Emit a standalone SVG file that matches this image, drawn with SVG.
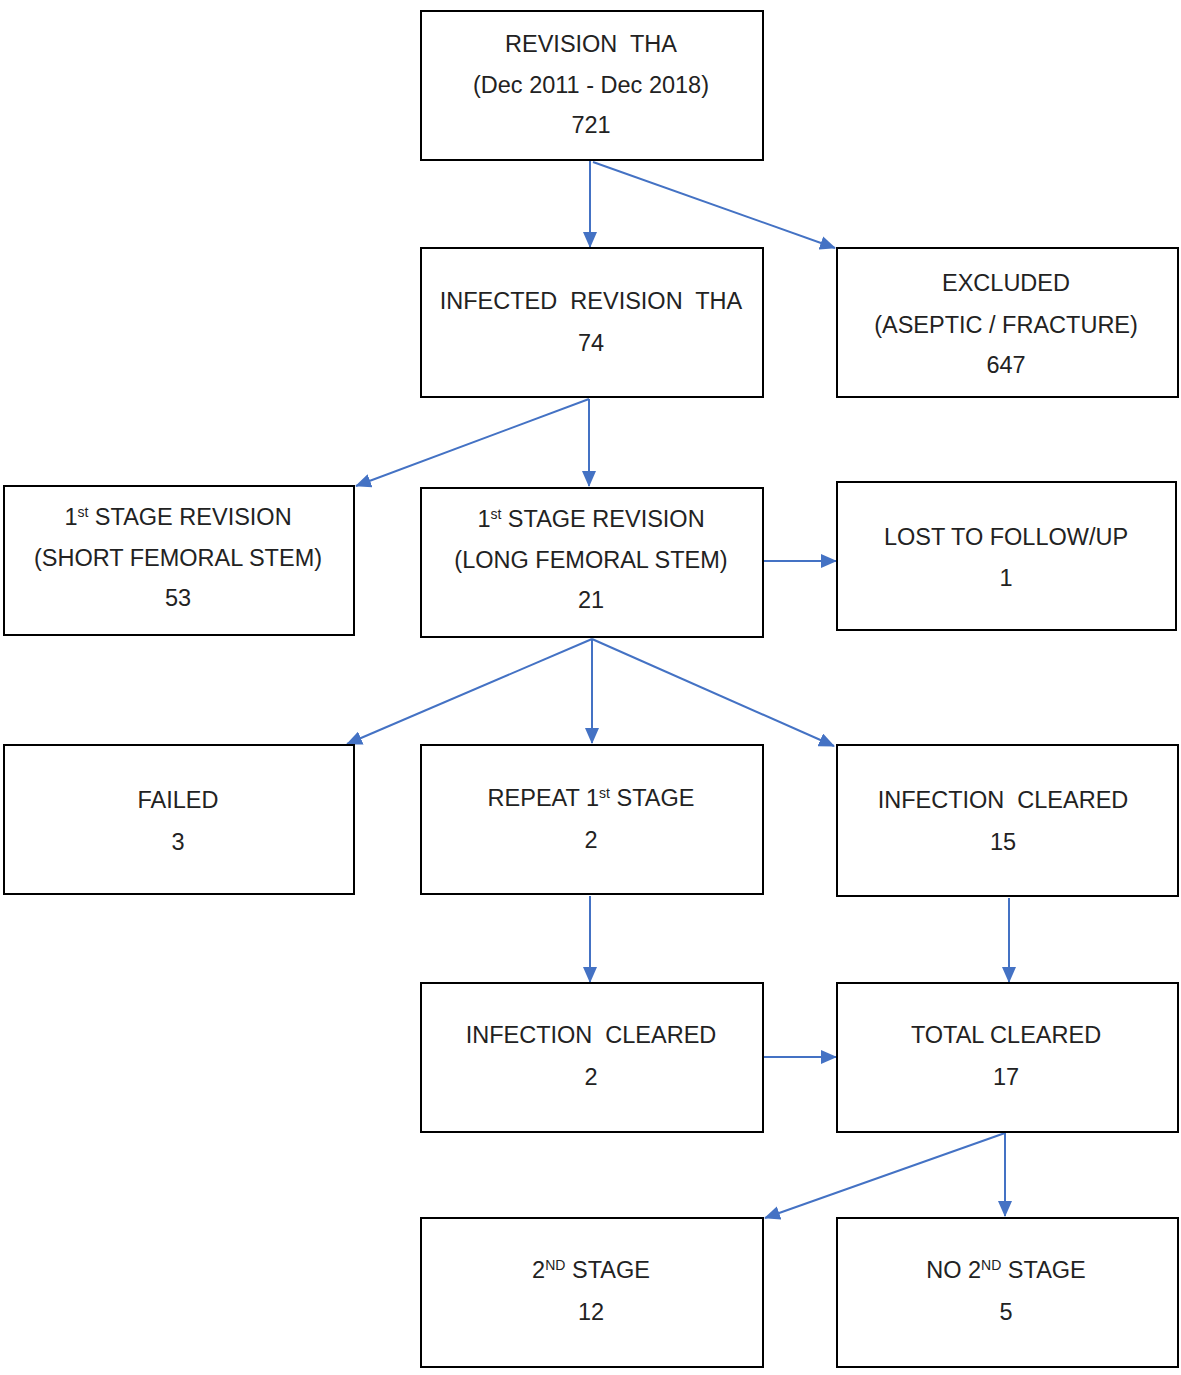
<svg xmlns="http://www.w3.org/2000/svg" width="1181" height="1375" viewBox="0 0 1181 1375">
<style>
.box{fill:#fff;stroke:#000;stroke-width:2}
text{font-family:"Liberation Sans",Arial,sans-serif;font-size:23.5px;fill:#222;text-anchor:middle;white-space:pre}
.sup{font-size:14px}
.c{stroke:#4472C4;stroke-width:2;fill:none;marker-end:url(#ah)}
</style>
<defs>
<marker id="ah" markerWidth="16" markerHeight="14" refX="15" refY="7" orient="auto" markerUnits="userSpaceOnUse">
<path d="M0,0 L16,7 L0,14 Z" fill="#4472C4"/>
</marker>
</defs>
<g id="connectors">
<line class="c" x1="590" y1="161" x2="590" y2="247"/>
<line class="c" x1="593" y1="162" x2="835" y2="248"/>
<line class="c" x1="589" y1="399" x2="356" y2="486"/>
<line class="c" x1="589" y1="399" x2="589" y2="486"/>
<line class="c" x1="764" y1="561" x2="836" y2="561"/>
<line class="c" x1="592" y1="639" x2="347" y2="744"/>
<line class="c" x1="592" y1="639" x2="592" y2="743"/>
<line class="c" x1="592" y1="639" x2="834" y2="746"/>
<line class="c" x1="590" y1="896" x2="590" y2="982"/>
<line class="c" x1="1009" y1="898" x2="1009" y2="982"/>
<line class="c" x1="764" y1="1057" x2="836" y2="1057"/>
<line class="c" x1="1005" y1="1133" x2="765" y2="1218"/>
<line class="c" x1="1005" y1="1133" x2="1005" y2="1216"/>
</g>
<g id="n1"><rect class="box" x="421" y="11" width="342" height="149"/>
<text x="591" y="52" xml:space="preserve">REVISION  THA</text>
<text x="591" y="93">(Dec 2011 - Dec 2018)</text>
<text x="591" y="133">721</text></g>
<g id="n2"><rect class="box" x="421" y="248" width="342" height="149"/>
<text x="591" y="309" xml:space="preserve">INFECTED  REVISION  THA</text>
<text x="591" y="351">74</text></g>
<g id="n3"><rect class="box" x="837" y="248" width="341" height="149"/>
<text x="1006" y="291">EXCLUDED</text>
<text x="1006" y="333">(ASEPTIC / FRACTURE)</text>
<text x="1006" y="373">647</text></g>
<g id="n4"><rect class="box" x="4" y="486" width="350" height="149"/>
<text x="178" y="525">1<tspan class="sup" dy="-8">st</tspan><tspan dy="8"> STAGE REVISION</tspan></text>
<text x="178" y="566">(SHORT FEMORAL STEM)</text>
<text x="178" y="606">53</text></g>
<g id="n5"><rect class="box" x="421" y="488" width="342" height="149"/>
<text x="591" y="527">1<tspan class="sup" dy="-8">st</tspan><tspan dy="8"> STAGE REVISION</tspan></text>
<text x="591" y="568">(LONG FEMORAL STEM)</text>
<text x="591" y="608">21</text></g>
<g id="n6"><rect class="box" x="837" y="482" width="339" height="148"/>
<text x="1006" y="545">LOST TO FOLLOW/UP</text>
<text x="1006" y="586">1</text></g>
<g id="n7"><rect class="box" x="4" y="745" width="350" height="149"/>
<text x="178" y="808">FAILED</text>
<text x="178" y="850">3</text></g>
<g id="n8"><rect class="box" x="421" y="745" width="342" height="149"/>
<text x="591" y="806">REPEAT 1<tspan class="sup" dy="-8">st</tspan><tspan dy="8"> STAGE</tspan></text>
<text x="591" y="848">2</text></g>
<g id="n9"><rect class="box" x="837" y="745" width="341" height="151"/>
<text x="1003" y="808" xml:space="preserve">INFECTION  CLEARED</text>
<text x="1003" y="850">15</text></g>
<g id="n10"><rect class="box" x="421" y="983" width="342" height="149"/>
<text x="591" y="1043" xml:space="preserve">INFECTION  CLEARED</text>
<text x="591" y="1085">2</text></g>
<g id="n11"><rect class="box" x="837" y="983" width="341" height="149"/>
<text x="1006" y="1043">TOTAL CLEARED</text>
<text x="1006" y="1085">17</text></g>
<g id="n12"><rect class="box" x="421" y="1218" width="342" height="149"/>
<text x="591" y="1278">2<tspan class="sup" dy="-8">ND</tspan><tspan dy="8"> STAGE</tspan></text>
<text x="591" y="1320">12</text></g>
<g id="n13"><rect class="box" x="837" y="1218" width="341" height="149"/>
<text x="1006" y="1278">NO 2<tspan class="sup" dy="-8">ND</tspan><tspan dy="8"> STAGE</tspan></text>
<text x="1006" y="1320">5</text></g>
</svg>
